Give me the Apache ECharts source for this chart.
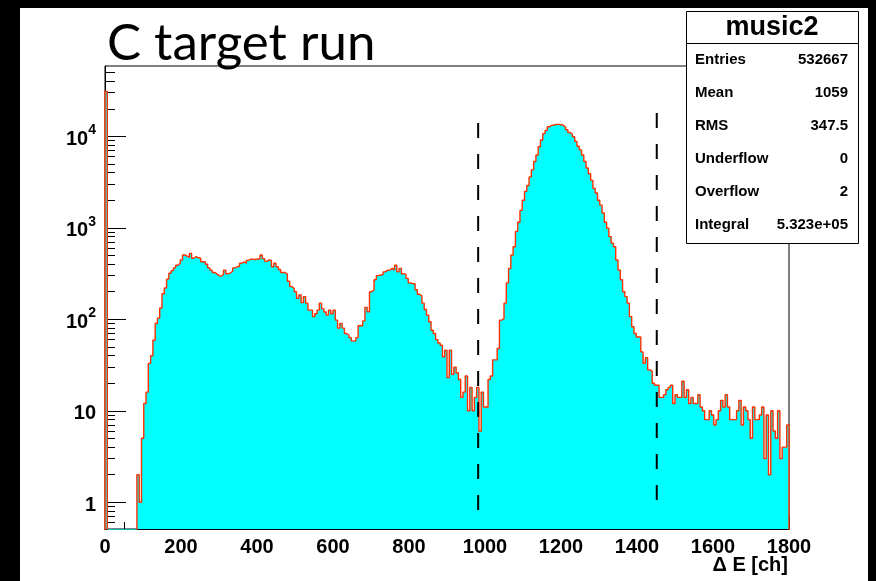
<!DOCTYPE html>
<html><head><meta charset="utf-8">
<script src="https://cdn.jsdelivr.net/npm/echarts@6/dist/echarts.min.js"></script>
<style>
html,body{margin:0;padding:0;background:#000;width:876px;height:581px;overflow:hidden;}
#c{position:absolute;left:20px;top:8px;width:848px;height:573px;background:#fff;}
</style></head><body><div id="c"></div>
<script>
// ---- data ----
const binStart = 0;
const binWidth = 6;
const counts = [
  31000,0,0,0,0,0,0,0,0,0,
  0,0,0,0,2,1,5,12,16,33,
  40,59,90,103,133,190,220,275,318,340,
  365,390,410,445,505,490,475,525,465,485,
  470,465,425,425,400,365,345,325,315,300,
  295,310,345,315,320,335,365,375,380,410,
  425,410,440,455,455,450,458,455,505,460,
  430,445,440,375,410,375,350,325,325,310,
  260,228,217,200,170,185,152,177,150,126,
  126,107,115,126,150,130,120,111,126,115,
  126,98,80,90,80,70,67,63,58,58,
  63,85,85,96,135,121,200,210,270,300,
  305,310,330,345,345,360,345,390,330,360,
  315,310,280,250,245,245,210,188,180,150,
  128,111,94,76,70,60,55,52,39,46,
  23,46,25,30,26,22,14,16,24,10,
  18,10,14,18,6,16,11,11,22,24,
  36,36,48,98,102,150,250,360,505,620,
  910,1150,1550,2000,2500,2900,3600,4300,5300,6250,
  7700,9100,10700,11600,12700,13200,13300,13500,13500,13400,
  13200,12600,11800,11000,10500,9900,8800,7800,7100,6250,
  5300,4500,3900,3300,2700,2400,2000,1770,1450,1150,
  990,800,680,620,445,345,270,200,177,150,
  107,83,70,64,64,44,33,38,28,27,
  20,19,19,14,14,15,17,18,19,12,
  15,14,14,21,14,17,12,14,12,12,
  15,11,10,8,8,10,9,7,8,10,
  13,11,15,11,8,8,8,10,13,7,
  11,10,8,5,11,8,8,9,11,3,
  9,2,10,6,5,10,3,4,4,7
];
const xMin = 0, xMax = 1800, xStep = 200;
const yMin = 0.51, yMax = 58700;
const yDecades = [1, 10, 100, 1000, 10000];
const cutX = [982, 1452];
const cutLow = [0.6, 0.78];
const cutHigh = [14000, 18000];
const titleText = 'C target run';
const xAxisTitle = '\u0394 E [ch]';
const statsName = 'music2';
const statsLabels = ['Entries', 'Mean', 'RMS', 'Underflow', 'Overflow', 'Integral'];
const statsValues = ['532667', '1059', '347.5', '0', '2', '5.323e+05'];

// ---- build ----
const floorVal = 1e-3;
const histPts = [[binStart, floorVal]];
counts.forEach((v, i) => histPts.push([binStart + i * binWidth, v > 0 ? v : floorVal]));
histPts.push([binStart + counts.length * binWidth, floorVal]);

const yMinor = [];
[0.1, 1, 10, 100, 1000, 10000].forEach(d => {
  for (let k = 2; k <= 9; k++) { const v = k * d; if (v >= yMin && v <= yMax) yMinor.push(+v.toPrecision(6)); }
});

const FONT = '"Liberation Sans", Arial, Helvetica, sans-serif';

const cutSeries = cutX.map((x, i) => ({
  type: 'line', data: [[x, cutHigh[i]], [x, cutLow[i]]], symbol: 'none', silent: true,
  lineStyle: { color: '#000', width: 2, type: [15, 16] }, z: 5, animation: false
}));

const gLeft = 666, gTop = 3, gW = 172, gH = 232, hdrH = 32, rowH = 33;
const graphics = [
  { type: 'rect', z: 100, shape: { x: gLeft + 0.5, y: gTop + 0.5, width: gW, height: gH }, style: { fill: '#fff', stroke: '#000', lineWidth: 1 } },
  { type: 'line', z: 101, shape: { x1: gLeft, y1: gTop + hdrH + 0.5, x2: gLeft + gW, y2: gTop + hdrH + 0.5 }, style: { stroke: '#000', lineWidth: 1 } },
  { type: 'text', z: 101, x: gLeft + gW / 2, y: gTop + hdrH / 2 + 1, style: { text: statsName, font: 'bold 27px ' + FONT, textAlign: 'center', textVerticalAlign: 'middle', fill: '#000' } },
  { type: 'text', z: 101, x: 87, y: 36, style: { text: titleText, font: '51px Lato, "Open Sans", sans-serif', textAlign: 'left', textVerticalAlign: 'middle', fill: '#000' } },
  { type: 'text', z: 101, x: 768, y: 557, style: { text: xAxisTitle, font: 'bold 20px ' + FONT, textAlign: 'right', textVerticalAlign: 'middle', fill: '#000' } }
];
statsLabels.forEach((lab, i) => {
  const cy = gTop + hdrH + 17 + i * rowH;
  graphics.push({ type: 'text', z: 101, x: gLeft + 9, y: cy, style: { text: lab, font: 'bold 15px ' + FONT, textAlign: 'left', textVerticalAlign: 'middle', fill: '#000' } });
  graphics.push({ type: 'text', z: 101, x: gLeft + gW - 10, y: cy, style: { text: statsValues[i], font: 'bold 15px ' + FONT, textAlign: 'right', textVerticalAlign: 'middle', fill: '#000' } });
});

const chart = echarts.init(document.getElementById('c'), null, { renderer: 'canvas' });
chart.setOption({
  animation: false,
  backgroundColor: 'transparent',
  grid: { left: 85, top: 58, width: 684, height: 463, show: true, borderColor: '#000', borderWidth: 1, backgroundColor: 'transparent', containLabel: false },
  xAxis: {
    type: 'value', min: xMin, max: xMax, interval: xStep,
    axisLine: { show: true, lineStyle: { color: '#000', width: 1 } },
    axisTick: { show: true, inside: true, length: 14, lineStyle: { color: '#000', width: 1 } },
    minorTick: { show: true, splitNumber: 4, length: 7, lineStyle: { color: '#000', width: 1 } },
    axisLabel: { color: '#000', fontFamily: FONT, fontWeight: 'bold', fontSize: 20, margin: 8, showMinLabel: true, showMaxLabel: true, formatter: v => String(v) },
    splitLine: { show: false }
  },
  yAxis: [
    {
      type: 'log', logBase: 10, min: yMin, max: yMax, position: 'left',
      axisLine: { show: true, lineStyle: { color: '#000', width: 1 } },
      axisTick: { show: true, inside: true, length: 21, customValues: yDecades, lineStyle: { color: '#000', width: 1 } },
      minorTick: { show: false },
      axisLabel: {
        customValues: yDecades, margin: 9, color: '#000', fontFamily: FONT, fontWeight: 'bold', fontSize: 20,
        formatter: v => {
          const e = Math.round(Math.log10(v));
          if (e === 0) return '{b|1}';
          if (e === 1) return '{b|10}';
          return '{b|10}{s|' + e + '}';
        },
        rich: {
          b: { fontFamily: FONT, fontWeight: 'bold', fontSize: 20, color: '#000', lineHeight: 26, verticalAlign: 'bottom' },
          s: { fontFamily: FONT, fontWeight: 'bold', fontSize: 14, color: '#000', verticalAlign: 'top' }
        }
      },
      splitLine: { show: false }
    },
    {
      type: 'log', logBase: 10, min: yMin, max: yMax, position: 'left', offset: 0,
      axisLine: { show: false },
      axisTick: { show: true, inside: true, length: 10, customValues: yMinor, lineStyle: { color: '#000', width: 1 } },
      axisLabel: { show: false },
      minorTick: { show: false },
      splitLine: { show: false }
    }
  ],
  series: [
    {
      type: 'line', data: histPts, step: 'end', symbol: 'none', clip: true, silent: true, z: 3,
      lineStyle: { color: '#ff3000', width: 1.4 },
      areaStyle: { color: '#00ffff', opacity: 1, origin: 'start' },
      animation: false
    }
  ].concat(cutSeries),
  graphic: graphics
});
</script></body></html>
